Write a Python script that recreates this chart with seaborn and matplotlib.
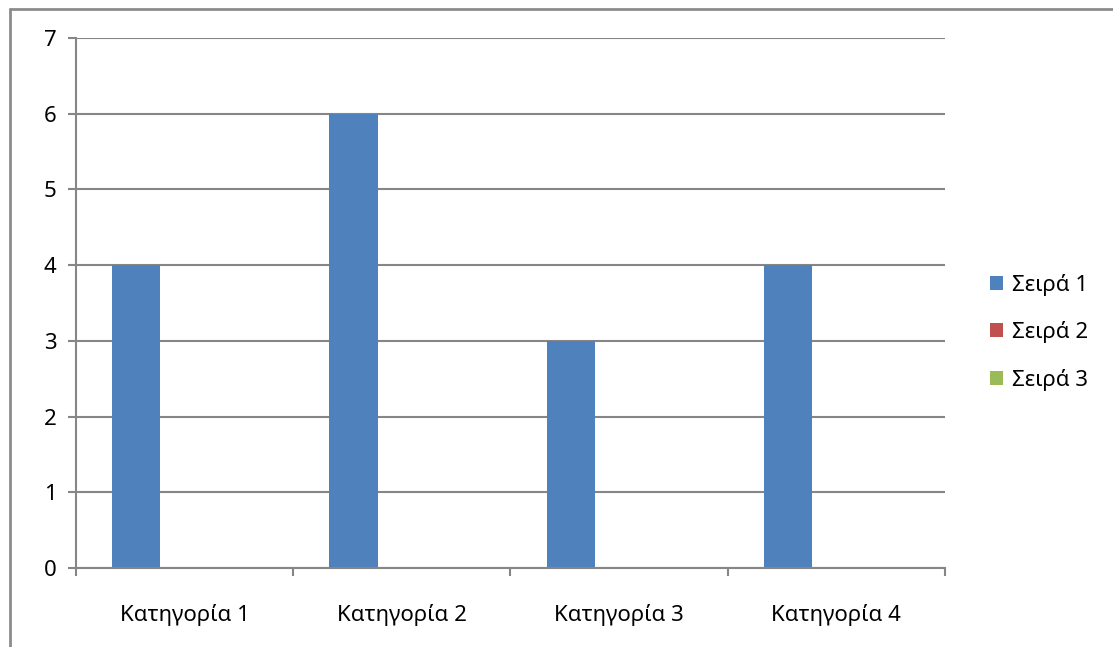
import numpy as np
import pandas as pd
import matplotlib
matplotlib.use("Agg")
import matplotlib.pyplot as plt
import seaborn as sns
from matplotlib.lines import Line2D

categories = ["Κατηγορία 1", "Κατηγορία 2", "Κατηγορία 3", "Κατηγορία 4"]
series_names = ["Σειρά 1", "Σειρά 2", "Σειρά 3"]
series_1 = [4, 6, 3, 4]
series_2 = [0, 0, 0, 0]
series_3 = [0, 0, 0, 0]
colors = ["#4f81bd", "#c0504d", "#9bbb59"]

df = pd.DataFrame({
    "category": categories * 3,
    "series": [s for s in series_names for _ in categories],
    "value": series_1 + series_2 + series_3,
})

sns.set_style("white")
plt.rcParams["font.family"] = ["Noto Sans", "DejaVu Sans"]
plt.rcParams["text.color"] = "black"

W, H = 1113, 647
fig = plt.figure(figsize=(W / 100, H / 100), dpi=100)
ax = fig.add_axes([76 / W, 1 - 568 / H, (945 - 76) / W, (568 - 38) / H])

sns.barplot(data=df, x="category", y="value", hue="series", palette=colors,
            width=3 / 4.5, gap=0, saturation=1, ax=ax, legend=True,
            linewidth=0)

grid_c = "#868686"
ax.set_ylim(0, 7)
ax.set_xlim(-0.5, 3.5)
ax.set_yticks(range(8))
ax.yaxis.grid(True, color=grid_c, linewidth=1.5)
ax.set_axisbelow(True)
ax.set_xlabel("")
ax.set_ylabel("")
for s in ["top", "right"]:
    ax.spines[s].set_visible(False)
for s in ["left", "bottom"]:
    ax.spines[s].set_color(grid_c)
    ax.spines[s].set_linewidth(1.5)

ax.tick_params(axis="y", left=True, length=6, width=1.5, color=grid_c,
               labelsize=16, labelcolor="black", pad=8)
ax.tick_params(axis="x", which="major", bottom=True, length=0, labelsize=16,
               labelcolor="black", pad=26)
ax.set_xticks(np.arange(-0.5, 4, 1), minor=True)
ax.tick_params(axis="x", which="minor", bottom=True, length=6, width=1.5, color=grid_c)

handles, labels = ax.get_legend_handles_labels()
leg = ax.legend(handles, labels, loc="center left", borderaxespad=0,
                frameon=False, fontsize=16, handlelength=0.6, handleheight=0.6,
                handletextpad=0.4, labelspacing=1.15)
leg.set_bbox_to_anchor((1.041, 0.445), transform=ax.transAxes)
for t in leg.get_texts():
    t.set_color("black")

# outer chart border (left and top only visible in the crop)
border = dict(color="#8c8c8c", linewidth=2, transform=fig.transFigure)
fig.lines.append(Line2D([10 / W, 10 / W], [0, 1 - 9 / H], **border))
fig.lines.append(Line2D([10 / W, 1], [1 - 9 / H, 1 - 9 / H], **border))

fig.savefig("out.png", dpi=100)
